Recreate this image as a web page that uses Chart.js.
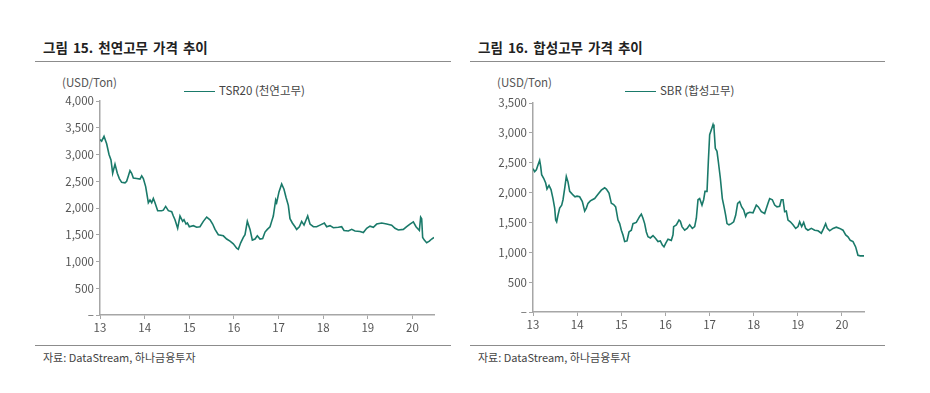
<!DOCTYPE html>
<html>
<head>
<meta charset="utf-8">
<script src="https://cdn.jsdelivr.net/npm/chart.js@4/dist/chart.umd.min.js"></script>
<style>
  body { margin: 0; background: #fff; width: 930px; height: 393px; position: relative; overflow: hidden;
         font-family: "Noto Sans CJK KR", sans-serif; color: #333; }
  .title { position: absolute; top: 37px; font-size: 13.5px; font-weight: bold; color: #222; white-space: nowrap; word-spacing: 2px; }
  .rule { position: absolute; height: 0; border-top: 1px solid #8c8c8c; }
  .unit { position: absolute; top: 74px; font-size: 11.5px; color: #555; }
  .leg { position: absolute; top: 82px; font-size: 11.5px; color: #444; white-space: nowrap; }
  .leg i { display: inline-block; width: 31px; height: 0; border-top: 1.5px solid #1a7a6a; vertical-align: middle; margin-right: 4px; }
  .src { position: absolute; top: 349px; font-size: 11px; color: #444; }
  canvas { position: absolute; }
</style>
</head>
<body>
<div class="title" style="left:43px">그림 15. 천연고무 가격 추이</div>
<div class="rule" style="left:35px; width:416px; top:61px"></div>
<div class="unit" style="left:62px">(USD/Ton)</div>
<div class="leg" style="left:184px"><i></i>TSR20 (천연고무)</div>
<canvas id="left" width="410" height="250" style="left:40px; top:90px"></canvas>
<div class="rule" style="left:35px; width:416px; top:345px"></div>
<div class="src" style="left:43px">자료: DataStream, 하나금융투자</div>

<div class="title" style="left:478px">그림 16. 합성고무 가격 추이</div>
<div class="rule" style="left:470px; width:415px; top:61px"></div>
<div class="unit" style="left:497px">(USD/Ton)</div>
<div class="leg" style="left:625px"><i></i>SBR (합성고무)</div>
<canvas id="right" width="410" height="250" style="left:470px; top:90px"></canvas>
<div class="rule" style="left:470px; width:415px; top:345px"></div>
<div class="src" style="left:478px">자료: DataStream, 하나금융투자</div>

<script>
// TSR20 natural rubber, USD/ton
var tsrYears = [2013.000, 2013.037, 2013.090, 2013.149, 2013.202, 2013.246, 2013.284, 2013.336, 2013.388, 2013.433,
  2013.485, 2013.560, 2013.597, 2013.635, 2013.672, 2013.709, 2013.747, 2013.821, 2013.896, 2013.934,
  2013.971, 2014.023, 2014.083, 2014.120, 2014.158, 2014.195, 2014.232, 2014.292, 2014.382, 2014.419,
  2014.471, 2014.531, 2014.606, 2014.643, 2014.680, 2014.740, 2014.792, 2014.852, 2014.882, 2014.927,
  2014.957, 2015.001, 2015.091, 2015.166, 2015.240, 2015.315, 2015.390, 2015.465, 2015.524, 2015.577,
  2015.651, 2015.763, 2015.838, 2015.913, 2015.987, 2016.062, 2016.099, 2016.152, 2016.211, 2016.249,
  2016.301, 2016.361, 2016.413, 2016.473, 2016.525, 2016.585, 2016.645, 2016.697, 2016.749, 2016.809,
  2016.846, 2016.883, 2016.936, 2016.958, 2017.010, 2017.070, 2017.122, 2017.167, 2017.219, 2017.257,
  2017.309, 2017.369, 2017.406, 2017.466, 2017.518, 2017.571, 2017.653, 2017.705, 2017.780, 2017.854,
  2017.929, 2018.026, 2018.078, 2018.153, 2018.228, 2018.340, 2018.414, 2018.467, 2018.564, 2018.639,
  2018.713, 2018.825, 2018.900, 2018.975, 2019.049, 2019.124, 2019.199, 2019.311, 2019.423, 2019.535,
  2019.609, 2019.684, 2019.796, 2019.871, 2019.945, 2020.020, 2020.080, 2020.155, 2020.184, 2020.207,
  2020.229, 2020.266, 2020.319, 2020.379, 2020.431, 2020.483];
var tsrValues = [3280, 3250, 3340, 3200, 3000, 2900, 2650, 2820, 2650, 2550,
  2480, 2470, 2500, 2600, 2700, 2650, 2560, 2550, 2540, 2600,
  2550, 2400, 2100, 2150, 2100, 2180, 2100, 1950, 1950, 1960,
  2030, 1950, 1930, 1850, 1780, 1620, 1850, 1750, 1780, 1700,
  1720, 1650, 1670, 1640, 1650, 1750, 1830, 1780, 1700, 1600,
  1500, 1480, 1420, 1380, 1330, 1250, 1230, 1350, 1450, 1500,
  1750, 1600, 1400, 1420, 1480, 1420, 1430, 1550, 1600, 1650,
  1750, 1850, 2150, 2100, 2300, 2450, 2350, 2200, 2050, 1800,
  1720, 1650, 1600, 1650, 1750, 1680, 1850, 1700, 1650, 1650,
  1680, 1720, 1650, 1670, 1630, 1640, 1650, 1580, 1570, 1600,
  1570, 1560, 1540, 1620, 1660, 1640, 1700, 1720, 1700, 1680,
  1620, 1590, 1600, 1650, 1700, 1740, 1650, 1580, 1830, 1800,
  1450, 1400, 1350, 1380, 1420, 1450];

// SBR synthetic rubber, USD/ton
var sbrYears = [2013.000, 2013.038, 2013.076, 2013.113, 2013.151, 2013.174, 2013.196, 2013.242, 2013.287, 2013.317,
  2013.363, 2013.408, 2013.453, 2013.491, 2013.514, 2013.536, 2013.566, 2013.604, 2013.650, 2013.680,
  2013.718, 2013.755, 2013.793, 2013.831, 2013.869, 2013.906, 2013.952, 2013.997, 2014.057, 2014.118,
  2014.171, 2014.208, 2014.246, 2014.299, 2014.344, 2014.397, 2014.473, 2014.548, 2014.624, 2014.662,
  2014.722, 2014.775, 2014.828, 2014.873, 2014.926, 2014.964, 2015.002, 2015.039, 2015.077, 2015.130,
  2015.175, 2015.228, 2015.266, 2015.341, 2015.417, 2015.455, 2015.492, 2015.530, 2015.568, 2015.606,
  2015.659, 2015.719, 2015.779, 2015.832, 2015.885, 2015.931, 2015.968, 2016.006, 2016.059, 2016.134,
  2016.172, 2016.187, 2016.248, 2016.308, 2016.338, 2016.376, 2016.437, 2016.492, 2016.550, 2016.610,
  2016.663, 2016.701, 2016.739, 2016.776, 2016.829, 2016.867, 2016.897, 2016.943, 2016.973, 2017.003,
  2017.041, 2017.079, 2017.101, 2017.131, 2017.169, 2017.199, 2017.245, 2017.290, 2017.335, 2017.366,
  2017.396, 2017.441, 2017.494, 2017.547, 2017.592, 2017.637, 2017.683, 2017.728, 2017.773, 2017.819,
  2017.849, 2017.909, 2017.985, 2018.060, 2018.106, 2018.174, 2018.249, 2018.325, 2018.363, 2018.423,
  2018.476, 2018.529, 2018.589, 2018.627, 2018.665, 2018.702, 2018.740, 2018.778, 2018.831, 2018.891,
  2018.952, 2019.005, 2019.042, 2019.088, 2019.133, 2019.178, 2019.231, 2019.307, 2019.382, 2019.458,
  2019.533, 2019.586, 2019.631, 2019.669, 2019.722, 2019.798, 2019.873, 2019.949, 2020.024, 2020.085,
  2020.137, 2020.190, 2020.251, 2020.311, 2020.363, 2020.417, 2020.500];
var sbrValues = [2400, 2350, 2380, 2460, 2540, 2440, 2300, 2240, 2160, 2060,
  2120, 2050, 1900, 1740, 1540, 1510, 1620, 1740, 1790, 1880,
  2070, 2270, 2180, 2020, 1990, 1960, 1930, 1940, 1930, 1850,
  1690, 1740, 1820, 1860, 1880, 1900, 1970, 2040, 2080, 2060,
  1990, 1820, 1800, 1760, 1540, 1480, 1370, 1290, 1180, 1190,
  1340, 1370, 1480, 1500, 1600, 1640, 1570, 1480, 1340, 1260,
  1240, 1280, 1230, 1180, 1190, 1120, 1090, 1150, 1220, 1200,
  1290, 1430, 1460, 1540, 1520, 1430, 1370, 1400, 1460, 1400,
  1430, 1570, 1880, 1900, 1790, 1880, 2020, 2020, 2520, 2970,
  3050, 3140, 3080, 2740, 2690, 2520, 2240, 1900, 1740, 1620,
  1480, 1460, 1480, 1510, 1620, 1820, 1850, 1760, 1710, 1600,
  1650, 1670, 1660, 1790, 1760, 1680, 1650, 1820, 1900, 1880,
  1790, 1760, 1770, 1880, 1880, 1680, 1690, 1540, 1510, 1460,
  1400, 1430, 1510, 1430, 1500, 1400, 1370, 1400, 1370, 1360,
  1320, 1400, 1480, 1400, 1360, 1400, 1420, 1400, 1370, 1290,
  1260, 1200, 1180, 1090, 950, 940, 940];

var tsrTicks = [0, 500, 1000, 1500, 2000, 2500, 3000, 3500, 4000];
var sbrTicks = [0, 500, 1000, 1500, 2000, 2500, 3000, 3500];

var lineColor = '#1a7a6a';
var tickFont = { family: '"Noto Sans CJK KR", sans-serif', size: 11.5 };

function makeChart(id, years, values, yTicks, layout) {
  var pts = years.map(function (y, i) { return { x: y, y: values[i] }; });
  return new Chart(document.getElementById(id), {
    type: 'line',
    data: {
      datasets: [{
        data: pts,
        borderColor: lineColor,
        borderWidth: 1.6,
        pointRadius: 0,
        tension: 0
      }]
    },
    options: {
      responsive: false,
      animation: false,
      devicePixelRatio: 1,
      layout: { padding: { top: layout.top, right: layout.right, left: 0, bottom: 0 } },
      plugins: { legend: { display: false }, tooltip: { enabled: false } },
      scales: {
        x: {
          type: 'linear',
          min: 2013,
          max: years[years.length - 1],
          afterFit: function (s) { s.height = layout.xh; },
          border: { display: true, color: '#a6a6a6', width: 1.5 },
          grid: { drawOnChartArea: false, drawTicks: true, tickLength: 4, color: '#a6a6a6' },
          ticks: {
            stepSize: 1,
            includeBounds: false,
            maxRotation: 0,
            padding: 2,
            color: '#555',
            font: tickFont,
            callback: function (v) { return String(v - 2000); }
          }
        },
        y: {
          min: 0,
          max: yTicks[yTicks.length - 1],
          afterFit: function (s) { s.width = layout.yw; },
          afterBuildTicks: function (s) { s.ticks = yTicks.map(function (v) { return { value: v }; }); },
          border: { display: true, color: '#a6a6a6', width: 1.5 },
          grid: { drawOnChartArea: false, drawTicks: true, tickLength: 4, color: '#a6a6a6' },
          ticks: {
            padding: 2,
            color: '#555',
            font: tickFont,
            callback: function (v) { return v === 0 ? '–' : v.toLocaleString('en-US'); }
          }
        }
      }
    }
  });
}

makeChart('left', tsrYears, tsrValues, tsrTicks, { top: 11, right: 16, yw: 60, xh: 25 });
makeChart('right', sbrYears, sbrValues, sbrTicks, { top: 13, right: 16, yw: 63, xh: 28 });
</script>
</body>
</html>
